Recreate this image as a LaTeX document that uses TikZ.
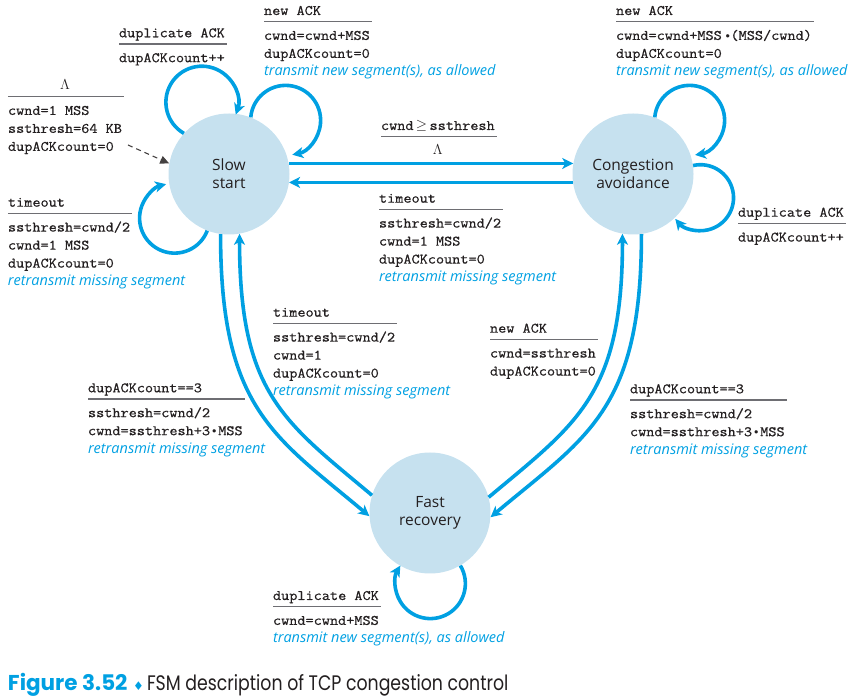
\documentclass[tikz,border=0pt]{standalone}
\usepackage{fontspec}
\usepackage{colortbl}
\usetikzlibrary{arrows.meta}
\setmainfont{Open Sans}
\setmonofont{Latin Modern Mono}[FakeStretch=1.09,FakeBold=0.6]
\newfontfamily\capfont{Poppins}[FakeStretch=0.825]
\newfontfamily\capbold{Poppins}[FakeStretch=1.0]
\newfontfamily\djv{DejaVu Sans}
\definecolor{arrowblue}{RGB}{0,160,226}
\definecolor{statefill}{RGB}{198,225,239}
\definecolor{rulegray}{RGB}{110,110,115}
\definecolor{txt}{RGB}{35,31,32}
\newcommand\mono{\fontsize{14.5}{18}\selectfont\ttfamily}
\newcommand\act[1]{\makebox[0pt][l]{\fontsize{14.5}{18}\selectfont\rmfamily\itshape\color{arrowblue}#1}}
\newcommand\bul{\makebox[\fontcharwd\font`0][c]{\raisebox{0.12em}{\scalebox{0.6}{$\bullet$}}}}
\newcommand\nbul{\makebox[0.7\fontcharwd\font`0][c]{\raisebox{0.12em}{\scalebox{0.6}{$\bullet$}}}}
\newcommand\fsmlab[2]{\mono\arrayrulecolor{rulegray}\setlength\arrayrulewidth{1.3pt}\begin{tabular}[t]{@{}l@{\hspace{2pt}}}#1\\[0.6pt]\hline\noalign{\vskip 5pt}#2\end{tabular}}
\newcommand\statefont{\fontsize{15.5}{18}\selectfont}
\begin{document}
\begin{tikzpicture}[x=1pt,y=1pt,
  state/.style={circle, fill=statefill, minimum size=121pt, inner sep=0pt, align=center, font=\statefont, text=txt},
  arr/.style={draw=arrowblue, line width=3.6pt, -{Stealth[length=11pt,width=11pt,inset=3pt]}},
  lab/.style={inner sep=0pt, outer sep=0pt, anchor=base west, text=txt},
  initarr/.style={draw=txt!85, dash pattern=on 5pt off 4pt, line width=1.1pt, -{Triangle[length=9pt,width=8pt]}}]
\useasboundingbox (0,0) rectangle (865,699);
% states
\node[state] (ss) at (229,525) {Slow\\start};
\node[state] (ca) at (633,525) {Congestion\\avoidance};
\node[state] (fr) at (430,186) {Fast\\recovery};
% initial
\coordinate (init) at (128,554);
\draw[initarr] (init) -- (ss.170);
% horizontal transitions
\draw[arr] (ss.10) -- (ca.170);
\draw[arr] (ca.188) -- (ss.-8);
% long curved transitions
\draw[arr] (ss.262) to[out=-90,in=140,out looseness=1.4] (fr.183);
\draw[arr] (fr.163) to[out=140,in=-90,in looseness=1.4] (ss.-80);
\draw[arr] (ca.-82) to[out=-90,in=40,out looseness=1.4] (fr.-4);
\draw[arr] (fr.15) to[out=40,in=-90,in looseness=1.4] (ca.-100);
% self loops
\draw[arr] (ss.138) arc[start angle=240, end angle=-20, radius=36];
\draw[arr] (ss.69) arc[start angle=175, end angle=-79, radius=35];
\draw[arr] (ss.249) arc[start angle=-21, end angle=-256, radius=35];
\draw[arr] (ca.69) arc[start angle=175, end angle=-81, radius=35];
\draw[arr] (ca.8) arc[start angle=103, end angle=-140, radius=33];
\draw[arr] (fr.-60) arc[start angle=31, end angle=-211, radius=35];
% labels
\node[lab] (ldupss) at (119,{699-37.3}) {\fsmlab{duplicate ACK}{dupACKcount++}};
\node[lab] (linit) at (8,{699-90}) {\fsmlab{\multicolumn{1}{@{}c@{\hspace{2pt}}}{$\Lambda$}}{cwnd=1 MSS\\ssthresh=64 KB\\dupACKcount=0}};
\node[lab] (lnewss) at (264,{699-15}) {\fsmlab{new ACK}{cwnd=cwnd+MSS\\dupACKcount=0\\\act{transmit new segment(s), as allowed}}};
\node[lab] (lthresh) at (381,{699-130}) {\fsmlab{cwnd\,$\geq$\,ssthresh}{\multicolumn{1}{@{}c@{\hspace{2pt}}}{$\Lambda$}}};
\node[lab] (ltoca) at (379,{699-202.7}) {\fsmlab{timeout}{ssthresh=cwnd/2\\cwnd=1 MSS\\dupACKcount=0\\\act{retransmit missing segment}}};
\node[lab] (lnewca) at (616,{699-15}) {\fsmlab{new ACK}{cwnd=cwnd+MSS\hspace{3pt}\nbul(MSS/cwnd)\\dupACKcount=0\\\act{transmit new segment(s), as allowed}}};
\node[lab] (ldupca) at (738,{699-216.7}) {\fsmlab{duplicate ACK}{dupACKcount++}};
\node[lab] (ltoss) at (8,{699-206.7}) {\fsmlab{timeout}{ssthresh=cwnd/2\\cwnd=1 MSS\\dupACKcount=0\\\act{retransmit missing segment}}};
\node[lab] (ltofr) at (273,{699-316.7}) {\fsmlab{timeout}{ssthresh=cwnd/2\\cwnd=1\\dupACKcount=0\\\act{retransmit missing segment}}};
\node[lab] (ldup3ss) at (88,{699-392.3}) {\fsmlab{dupACKcount==3}{ssthresh=cwnd/2\\cwnd=ssthresh+3\bul MSS\\\act{retransmit missing segment}}};
\node[lab] (lnewfr) at (490,{699-332.7}) {\fsmlab{new ACK}{cwnd=ssthresh\\dupACKcount=0}};
\node[lab] (ldup3ca) at (630,{699-393.3}) {\fsmlab{dupACKcount==3}{ssthresh=cwnd/2\\cwnd=ssthresh+3\bul MSS\\\act{retransmit missing segment}}};
\node[lab] (ldupfr) at (273,{699-600}) {\fsmlab{duplicate ACK}{cwnd=cwnd+MSS\\\act{transmit new segment(s), as allowed}}};
% caption
\node[lab] (capa) at (8,{699-690.7}) {\capbold\fontsize{21.5}{21.5}\selectfont\bfseries\color{arrowblue}Figure 3.52};
\node[lab] (capb) at (133,{699-690.7}) {\djv\fontsize{12}{12}\selectfont\color{arrowblue}♦};
\node[lab] (capc) at (147,{699-690.7}) {\capfont\fontsize{21}{21}\selectfont FSM description of TCP congestion control};
\end{tikzpicture}
\end{document}
